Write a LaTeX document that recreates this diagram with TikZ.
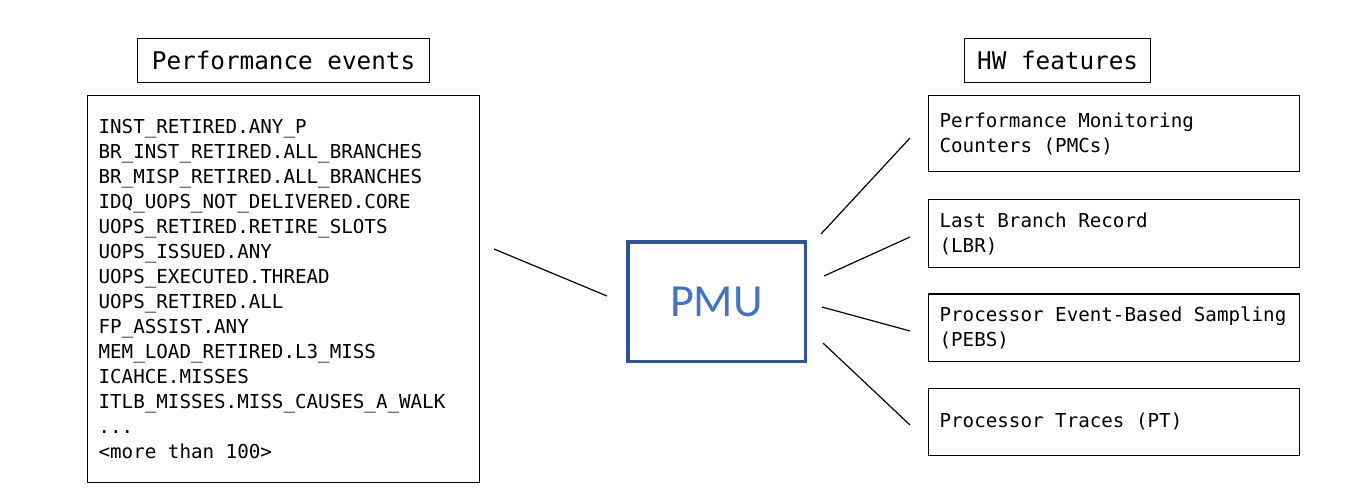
\documentclass[tikz,border=0pt]{standalone}
\usepackage{fontspec}
\setmainfont{Carlito}
\newfontfamily\codefont{DejaVu Sans Mono}
\usepackage{tikz}
\usetikzlibrary{positioning}

\definecolor{pmuline}{HTML}{2F5597}
\definecolor{pmutext}{HTML}{4472C4}

\tikzset{
	titlebox/.style={draw, line width=1.2pt, minimum height=44pt, inner sep=0pt, font=\codefont\fontsize{24.3}{29}\selectfont},
	listbox/.style={draw, line width=1.2pt, align=left, inner xsep=11pt, font=\codefont\fontsize{19.2}{25}\selectfont,
		execute at begin node={\spaceskip=0pt\xspaceskip=0pt}},
	featbox/.style={draw, line width=1.2pt, align=left, text width=349pt, inner xsep=11pt, minimum height=67.5pt, font=\codefont\fontsize{19.2}{25}\selectfont,
		execute at begin node={\spaceskip=0pt\xspaceskip=0pt}},
	link/.style={line width=1.2pt}
}

\begin{document}
\begin{tikzpicture}[x=1pt, y=-1pt]

\useasboundingbox (0,0) rectangle (1368,498);

\node [listbox, text width=370pt, minimum height=387pt, anchor=north west] (events) at (87,95) {
	INST\_RETIRED.ANY\_P \\
	BR\_INST\_RETIRED.ALL\_BRANCHES \\
	BR\_MISP\_RETIRED.ALL\_BRANCHES \\
	IDQ\_UOPS\_NOT\_DELIVERED.CORE \\
	UOPS\_RETIRED.RETIRE\_SLOTS \\
	UOPS\_ISSUED.ANY \\
	UOPS\_EXECUTED.THREAD \\
	UOPS\_RETIRED.ALL \\
	FP\_ASSIST.ANY \\
	MEM\_LOAD\_RETIRED.L3\_MISS \\
	ICAHCE.MISSES \\
	ITLB\_MISSES.MISS\_CAUSES\_A\_WALK \\
	... \\
	<more than 100>};

\node [titlebox, minimum width=292pt, above=12pt of events] (eventstitle) {Performance events};

\node [draw=pmuline, line width=3.5pt, minimum width=177.5pt, minimum height=119.5pt, text=pmutext, font=\fontsize{46}{50}\selectfont] (pmu) at (716.5,301.5) {PMU};

\node [featbox, minimum height=76pt, anchor=north west] (pmc) at (928,95) {
	Performance Monitoring \\
	Counters (PMCs)};

\node [featbox, below=27pt of pmc] (lbr) {
	Last Branch Record \\
	(LBR)};

\node [featbox, below=25.5pt of lbr] (pebs) {
	Processor Event-Based Sampling \\
	(PEBS)};

\node [featbox, below=25.5pt of pebs] (pt) {
	Processor Traces (PT)};

\node [titlebox, minimum width=186pt, above=12pt of pmc, xshift=-56.5pt] (hwtitle) {HW features};

\coordinate (events-out) at (494,249);
\coordinate (pmu-in)     at (607,296);
\coordinate (pmu-out1)   at (821,234);
\coordinate (pmu-out2)   at (824,276);
\coordinate (pmu-out3)   at (822,307);
\coordinate (pmu-out4)   at (823,343);
\coordinate (pmc-in)     at (910,138);
\coordinate (lbr-in)     at (910,237);
\coordinate (pebs-in)    at (910,331);
\coordinate (pt-in)      at (910,425);

\path [draw, link] (events-out) edge (pmu-in);
\path [draw, link] (pmu-out1)   edge (pmc-in);
\path [draw, link] (pmu-out2)   edge (lbr-in);
\path [draw, link] (pmu-out3)   edge (pebs-in);
\path [draw, link] (pmu-out4)   edge (pt-in);

\end{tikzpicture}
\end{document}
